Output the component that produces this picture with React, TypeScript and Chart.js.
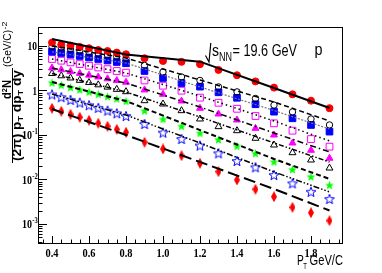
import React, { useEffect, useRef } from 'react';
import { Chart, registerables } from 'chart.js';
Chart.register(...registerables);

// ---------- data ----------
const pT = [0.4, 0.45, 0.5, 0.55, 0.6, 0.65, 0.7, 0.75, 0.8, 0.9, 1.0, 1.1, 1.2, 1.3, 1.4, 1.5, 1.6, 1.7, 1.8, 1.9];
const redCircles = [11.9, 10.7, 10.2, 9.5, 8.9, 8.1, 7.7, 7.1, 6.5, 5.3, 4.6, 4.4, 3.9, 2.9, 2.2, 1.6, 1.16, 0.82, 0.59, 0.40];
const openCircles = [9.75, 9.25, 8.56, 7.92, 7.33, 6.78, 6.28, 5.81, 5.24, 3.65, 2.6, 2.01, 1.68, 1.2, 0.93, 0.66, 0.47, 0.33, 0.229, 0.168];
const blueSquares = [7.45, 6.96, 6.44, 5.96, 5.52, 5.1, 4.72, 4.37, 4.09, 2.74, 1.91, 1.47, 1.22, 0.91, 0.685, 0.49, 0.334, 0.237, 0.168, 0.119];
const magentaSquares = [5.1, 4.67, 4.28, 3.92, 3.59, 3.29, 3.01, 2.74, 2.51, 1.68, 1.28, 0.99, 0.69, 0.53, 0.388, 0.267, 0.183, 0.125, 0.081, 0.0546];
const magentaTriangles = [3.2, 2.92, 2.66, 2.42, 2.21, 2.01, 1.83, 1.67, 1.53, 1.03, 0.82, 0.58, 0.398, 0.296, 0.217, 0.141, 0.1, 0.066, 0.0453, 0.03];
const openTriangles = [2.41, 2.14, 1.91, 1.69, 1.51, 1.34, 1.19, 1.06, 0.94, 0.59, 0.497, 0.352, 0.229, 0.154, 0.125, 0.0843, 0.0596, 0.04, 0.0274, 0.0181];
const greenStars = [1.5, 1.33, 1.18, 1.05, 0.93, 0.83, 0.736, 0.654, 0.58, 0.352, 0.229, 0.159, 0.111, 0.079, 0.0566, 0.0388, 0.0251, 0.0169, 0.0116, 0.0075];
const blueStars = [0.813, 0.707, 0.615, 0.535, 0.467, 0.407, 0.353, 0.307, 0.267, 0.177, 0.113, 0.0813, 0.058, 0.0388, 0.0261, 0.0188, 0.0126, 0.0082, 0.0053, 0.00365];
const redDiamonds = [0.398, 0.341, 0.292, 0.25, 0.214, 0.183, 0.157, 0.134, 0.115, 0.0686, 0.0485, 0.0343, 0.0231, 0.015, 0.00975, 0.00603, 0.0041, 0.00237, 0.00179, 0.00119];

const fitPT = [0.4, 0.8, 1.2, 1.6, 1.9];
const fit1 = [14.4, 6.44, 4.44, 1.14, 0.404];
const fit2 = [10.0, 5.37, 1.72, 0.552, 0.206];
const fit3 = [7.37, 4.15, 1.2, 0.355, 0.136];
const fit4 = [5.1, 2.47, 0.75, 0.206, 0.0737];
const fit5 = [3.2, 1.47, 0.426, 0.111, 0.0416];
const fit6 = [2.41, 0.925, 0.254, 0.0664, 0.0247];
const fit7 = [1.55, 0.58, 0.129, 0.0289, 0.0103];
const fit8 = [0.834, 0.281, 0.066, 0.0148, 0.00525];
const fit9 = [0.384, 0.1, 0.0247, 0.00612, 0.00201];

const xTickLabels = ['0.4', '0.6', '0.8', '1.0', '1.2', '1.4', '1.6', '1.8'];
const yTickExponents = [1, 0, -1, -2, -3];

// ---------- helpers ----------
type Seg = { t: string; size: number; dy: number; weight?: string; family?: string };
const fontOf = (s: Seg) => `${s.weight || 'normal'} ${s.size}px ${s.family || "'Liberation Sans'"}`;
function richWidth(ctx: CanvasRenderingContext2D, segs: Seg[]) {
  let w = 0;
  for (const s of segs) { ctx.font = fontOf(s); w += ctx.measureText(s.t).width; }
  return w;
}
function drawRich(ctx: CanvasRenderingContext2D, segs: Seg[], x: number, y: number, targetW: number) {
  const w = richWidth(ctx, segs);
  const sx = targetW / w;
  ctx.save();
  ctx.translate(x, y);
  ctx.scale(sx, 1);
  ctx.textAlign = 'left';
  ctx.textBaseline = 'alphabetic';
  let cx = 0;
  for (const s of segs) {
    ctx.font = fontOf(s);
    ctx.fillText(s.t, cx, s.dy);
    cx += ctx.measureText(s.t).width;
  }
  ctx.restore();
}

function makeStar(size: number, fill: string | null, stroke: string | null) {
  const c = document.createElement('canvas');
  c.width = size; c.height = size;
  const g = c.getContext('2d')!;
  const cx = size / 2, cy = size / 2 + 0.5, R = size / 2 - 0.8, r = R * 0.42;
  g.beginPath();
  for (let i = 0; i < 10; i++) {
    const a = -Math.PI / 2 + (i * Math.PI) / 5;
    const rr = i % 2 === 0 ? R : r;
    const px = cx + rr * Math.cos(a), py = cy + rr * Math.sin(a);
    if (i === 0) g.moveTo(px, py); else g.lineTo(px, py);
  }
  g.closePath();
  if (fill) { g.fillStyle = fill; g.fill(); }
  if (stroke) { g.strokeStyle = stroke; g.lineWidth = 1; g.stroke(); }
  return c;
}
function makeDiamond(w: number, h: number, fill: string) {
  const c = document.createElement('canvas');
  c.width = w; c.height = h;
  const g = c.getContext('2d')!;
  g.beginPath();
  g.moveTo(w / 2, 0); g.lineTo(w, h / 2); g.lineTo(w / 2, h); g.lineTo(0, h / 2);
  g.closePath();
  g.fillStyle = fill; g.fill();
  return c;
}

const pts = (xs: number[], ys: number[]) => xs.map((x, i) => ({ x, y: ys[i] }));

const axisPlugin = {
  id: 'rootAxes',
  beforeDatasetsDraw(chart: any) {
    const { ctx, chartArea: a, scales } = chart;
    const xs = scales.x, ys = scales.y;
    ctx.save();
    ctx.fillStyle = '#fff';
    ctx.fillRect(a.left, a.top, a.right - a.left, a.bottom - a.top);
    ctx.strokeStyle = '#000';
    ctx.lineWidth = 1;
    ctx.strokeRect(a.left + 0.5, a.top + 0.5, a.right - a.left - 1, a.bottom - a.top);
    // x ticks
    ctx.beginPath();
    for (let k = 7; k <= 39; k++) {
      const v = k * 0.05;
      const px = Math.round(xs.getPixelForValue(v)) + 0.5;
      if (px < a.left || px > a.right) continue;
      const major = k % 4 === 0;
      const len = major ? 7 : 3.5;
      ctx.moveTo(px, a.bottom);
      ctx.lineTo(px, a.bottom - len);
    }
    // y ticks
    for (let e = -4; e <= 1; e++) {
      for (let m = 1; m <= 9; m++) {
        const v = m * Math.pow(10, e);
        const py = Math.round(ys.getPixelForValue(v)) + 0.5;
        if (py < a.top || py > a.bottom) continue;
        const len = m === 1 ? 9 : 4.5;
        ctx.moveTo(a.left, py);
        ctx.lineTo(a.left + len, py);
      }
    }
    ctx.stroke();
    ctx.fillStyle = '#000';
    // x tick labels
    const serif = "'Liberation Serif'";
    xTickLabels.forEach((lab) => {
      const px = xs.getPixelForValue(parseFloat(lab));
      drawRich(ctx, [{ t: lab, size: 13, dy: 0, weight: 'bold', family: serif }], px - 6.5, 256.5, 13);
    });
    // y tick labels
    yTickExponents.forEach((e) => {
      const py = ys.getPixelForValue(Math.pow(10, e));
      if (e === 1) {
        drawRich(ctx, [{ t: '10', size: 12, dy: 0, weight: 'bold', family: serif }], 27.5, py + 4.5, 9.5);
      } else if (e === 0) {
        drawRich(ctx, [{ t: '1', size: 12, dy: 0, weight: 'bold', family: serif }], 32.5, py + 4.5, 4.5);
      } else {
        drawRich(ctx, [{ t: '10', size: 12, dy: 0, weight: 'bold', family: serif }], 22, py + 4.5, 10);
        drawRich(ctx, [{ t: String(e), size: 8, dy: 0, weight: 'bold', family: serif }], 32.2, py - 0.5, 5.5);
      }
    });
    ctx.restore();
  },
  afterDraw(chart: any) {
    const { ctx } = chart;
    ctx.save();
    ctx.fillStyle = '#000';
    ctx.strokeStyle = '#000';
    // sqrt(s_NN) = 19.6 GeV   p
    ctx.lineWidth = 1.2;
    ctx.beginPath();
    ctx.moveTo(205.5, 55.5);
    ctx.lineTo(209, 62);
    ctx.lineTo(210.8, 43);
    ctx.stroke();
    drawRich(ctx, [{ t: 's', size: 17, dy: 0 }], 212, 56, 7);
    drawRich(ctx, [{ t: 'NN', size: 12, dy: 0 }], 219, 61, 13);
    drawRich(ctx, [{ t: '= 19.6 GeV', size: 17, dy: 0 }], 232.5, 55.5, 64.5);
    drawRich(ctx, [{ t: 'p', size: 17, dy: 0 }], 314.5, 54.5, 8);
    // x title
    drawRich(ctx, [{ t: 'P', size: 14, dy: 0 }], 297, 265, 6.8);
    drawRich(ctx, [{ t: 'T', size: 9, dy: 0 }], 303.3, 268.5, 3.6);
    drawRich(ctx, [{ t: 'GeV/C', size: 14, dy: 0 }], 309.5, 265, 33.5);
    // y title (rotated)
    ctx.translate(0, 273);
    ctx.rotate(-Math.PI / 2);
    drawRich(ctx, [
      { t: '(2\u03c0) p', size: 12, dy: 0, weight: 'bold' },
      { t: 'T', size: 8, dy: 2.5, weight: 'bold' },
      { t: ' dp', size: 12, dy: 0, weight: 'bold' },
      { t: 'T', size: 8, dy: 2.5, weight: 'bold' },
      { t: ' dy', size: 12, dy: 0, weight: 'bold' },
    ], 112, 20.5, 91);
    ctx.lineWidth = 1;
    ctx.beginPath();
    ctx.moveTo(110, 12.5);
    ctx.lineTo(205, 12.5);
    ctx.stroke();
    drawRich(ctx, [
      { t: 'd', size: 12, dy: 0, weight: 'bold' },
      { t: '2', size: 8, dy: -4.5, weight: 'bold' },
      { t: 'N', size: 12, dy: 0, weight: 'bold' },
    ], 174, 11, 19);
    drawRich(ctx, [{ t: '(GeV/C)', size: 11, dy: 0 }], 206, 11, 37);
    drawRich(ctx, [{ t: '-2', size: 8, dy: 0 }], 243.5, 7, 8);
    ctx.restore();
  },
};

export default function App() {
  const ref = useRef<HTMLCanvasElement>(null);
  useEffect(() => {
    document.body.style.margin = '0';
    const greenStar = makeStar(11, '#00ff00', null);
    const blueStar = makeStar(12, null, '#0000ff');
    const diamond = makeDiamond(6, 11, '#ff0000');
    const line = (xs: number[], ys: number[], dash: number[], width: number, color = '#000') => ({
      type: 'line' as const,
      data: pts(xs, ys),
      borderColor: color,
      borderWidth: width,
      borderDash: dash,
      pointRadius: 0,
      fill: false,
      tension: 0,
      showLine: true,
    });
    const mark = (ys: number[], style: any, radius: number, bg: string, border: string, bw = 1) => ({
      type: 'scatter' as const,
      data: pts(pT, ys),
      pointStyle: style,
      pointRadius: radius,
      backgroundColor: bg,
      borderColor: border,
      borderWidth: bw,
      showLine: false,
    });
    const chart = new Chart(ref.current!, {
      type: 'scatter',
      data: {
        datasets: [
          line(fitPT, fit1, [], 2),
          line(fitPT, fit2, [5, 3], 1.5),
          line(fitPT, fit3, [2, 1.5], 1.2, '#777'),
          line(fitPT, fit4, [1.5, 3], 1.5),
          line(fitPT, fit5, [6, 3, 1.5, 3], 1.5),
          line(fitPT, fit6, [5, 2, 1.5, 2, 1.5, 2], 1.5),
          line(fitPT, fit7, [5, 3], 2),
          line(fitPT, fit8, [6, 2, 1.5, 2, 1.5, 2, 1.5, 2], 1.5),
          line(fitPT, fit9, [12, 5], 2),
          mark(redCircles, 'circle', 3.5, '#ff0000', '#ff0000'),
          mark(openCircles, 'circle', 3.2, 'rgba(0,0,0,0)', '#000'),
          mark(blueSquares, 'rect', 4.7, '#0000ff', '#0000ff'),
          mark(magentaSquares, 'rect', 4.8, 'rgba(0,0,0,0)', '#ff00ff'),
          mark(magentaTriangles, 'triangle', 4, '#ff00ff', '#ff00ff'),
          mark(openTriangles, 'triangle', 4, 'rgba(0,0,0,0)', '#000'),
          mark(greenStars, greenStar, 5, '#00ff00', '#00ff00'),
          mark(blueStars, blueStar, 5, 'rgba(0,0,0,0)', '#0000ff'),
          mark(redDiamonds, diamond, 5, '#ff0000', '#ff0000'),
        ] as any,
      },
      options: {
        animation: false,
        responsive: false,
        devicePixelRatio: 1,
        layout: { padding: { left: 38, top: 27, right: 39, bottom: 30 } },
        plugins: { legend: { display: false }, tooltip: { enabled: false } },
        scales: {
          x: { type: 'linear', min: 0.3243, max: 1.973, display: false },
          y: { type: 'logarithmic', min: 3.74e-4, max: 26.7, display: false },
        },
      },
      plugins: [axisPlugin],
    });
    return () => chart.destroy();
  }, []);
  return (
    <canvas ref={ref} width={382} height={273} style={{ position: 'absolute', left: 0, top: 0, display: 'block' }} />
  );
}
